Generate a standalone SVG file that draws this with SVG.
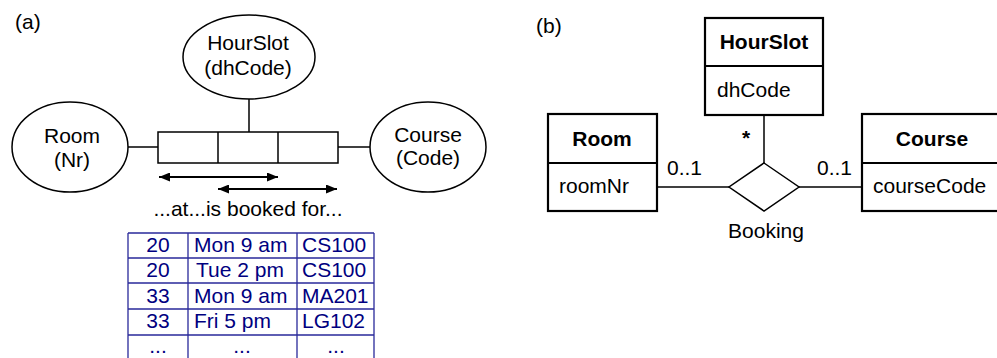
<svg xmlns="http://www.w3.org/2000/svg" width="997" height="358" viewBox="0 0 997 358">
<defs>
<style>
text{font-family:"Liberation Sans",Arial,sans-serif;font-size:21px;fill:#000}
.c{text-anchor:middle}
.b{font-weight:bold}
.ln{stroke:#000;stroke-width:1.5;fill:none}
.ar{stroke:#000;stroke-width:2;fill:none}
.sh{stroke:#000;stroke-width:1.5;fill:#fff}
.bx{stroke:#000;stroke-width:2.2;fill:#fff}
.tl{stroke:#2a2a9a;stroke-width:1.3;fill:none}
.tt{fill:#000080}
</style>
<marker id="ah" viewBox="0 0 11 9" refX="11" refY="4.5" markerWidth="11" markerHeight="9" markerUnits="userSpaceOnUse" orient="auto-start-reverse">
<path d="M0,0L11,4.5L0,9z" fill="#000"/>
</marker>
</defs>
<rect width="997" height="358" fill="#fff"/>

<text x="15" y="29">(a)</text>
<text x="536" y="33">(b)</text>

<g id="connectors">
<line class="ln" x1="249" y1="99" x2="249" y2="132"/>
<line class="ln" x1="128" y1="147" x2="158" y2="147"/>
<line class="ln" x1="338" y1="147" x2="370" y2="147"/>
<line class="ar" x1="159" y1="177" x2="278" y2="177" marker-start="url(#ah)" marker-end="url(#ah)"/>
<line class="ar" x1="218" y1="189" x2="337" y2="189" marker-start="url(#ah)" marker-end="url(#ah)"/>
<line class="ln" x1="657" y1="187" x2="729" y2="187"/>
<line class="ln" x1="799" y1="187" x2="862" y2="187"/>
<line class="ln" x1="764" y1="115" x2="764" y2="163"/>
</g>

<g id="a-hourslot">
<ellipse class="sh" cx="249" cy="57" rx="66" ry="42"/>
<text class="c" x="248" y="50">HourSlot</text>
<text class="c" x="248" y="75">(dhCode)</text>
</g>
<g id="a-room">
<ellipse class="sh" cx="70" cy="147" rx="58" ry="45"/>
<text class="c" x="72" y="143">Room</text>
<text class="c" x="72" y="167">(Nr)</text>
</g>
<g id="a-course">
<ellipse class="sh" cx="428" cy="147" rx="58" ry="45"/>
<text class="c" x="428" y="142">Course</text>
<text class="c" x="428" y="165">(Code)</text>
</g>
<g id="a-fact">
<rect class="sh" x="158" y="132" width="180" height="31"/>
<line class="ln" x1="218" y1="132" x2="218" y2="163"/>
<line class="ln" x1="278" y1="132" x2="278" y2="163"/>
</g>
<text class="c" x="248" y="216">...at...is booked for...</text>

<g id="a-table">
<path class="tl" d="M128,233H374M128,258H374M128,283H374M128,309H374M128,335H374M128,233V360M188,233V360M297,233V360M374,233V360"/>
<text class="c tt" x="158" y="252">20</text>
<text class="tt" x="194" y="252">Mon 9 am</text>
<text class="tt" x="302" y="252">CS100</text>
<text class="c tt" x="158" y="277">20</text>
<text class="tt" x="196" y="277">Tue 2 pm</text>
<text class="tt" x="302" y="277">CS100</text>
<text class="c tt" x="158" y="303">33</text>
<text class="tt" x="194" y="303">Mon 9 am</text>
<text class="tt" x="302" y="303">MA201</text>
<text class="c tt" x="158" y="328">33</text>
<text class="tt" x="194" y="328">Fri 5 pm</text>
<text class="tt" x="302" y="328">LG102</text>
<text class="c tt" x="158" y="353">...</text>
<text class="c tt" x="242" y="353">...</text>
<text class="c tt" x="336" y="353">...</text>
</g>

<g id="b-hourslot">
<rect class="bx" x="705" y="18" width="118" height="97"/>
<line class="bx" x1="705" y1="66" x2="823" y2="66"/>
<text class="c b" x="764" y="49">HourSlot</text>
<text x="717" y="97">dhCode</text>
</g>
<g id="b-room">
<rect class="bx" x="548" y="114" width="109" height="97"/>
<line class="bx" x1="548" y1="163" x2="657" y2="163"/>
<text class="c b" x="602" y="146">Room</text>
<text x="559" y="193">roomNr</text>
</g>
<g id="b-course">
<rect class="bx" x="862" y="114" width="140" height="97"/>
<line class="bx" x1="862" y1="163" x2="1002" y2="163"/>
<text class="c b" x="932" y="146">Course</text>
<text x="873" y="193">courseCode</text>
</g>
<g id="b-booking">
<polygon class="sh" points="764,163 799,187 764,211 729,187"/>
<text class="c" x="766" y="238">Booking</text>
</g>
<text class="b" x="742" y="145">*</text>
<text x="667" y="175">0..1</text>
<text x="817" y="175">0..1</text>
</svg>
